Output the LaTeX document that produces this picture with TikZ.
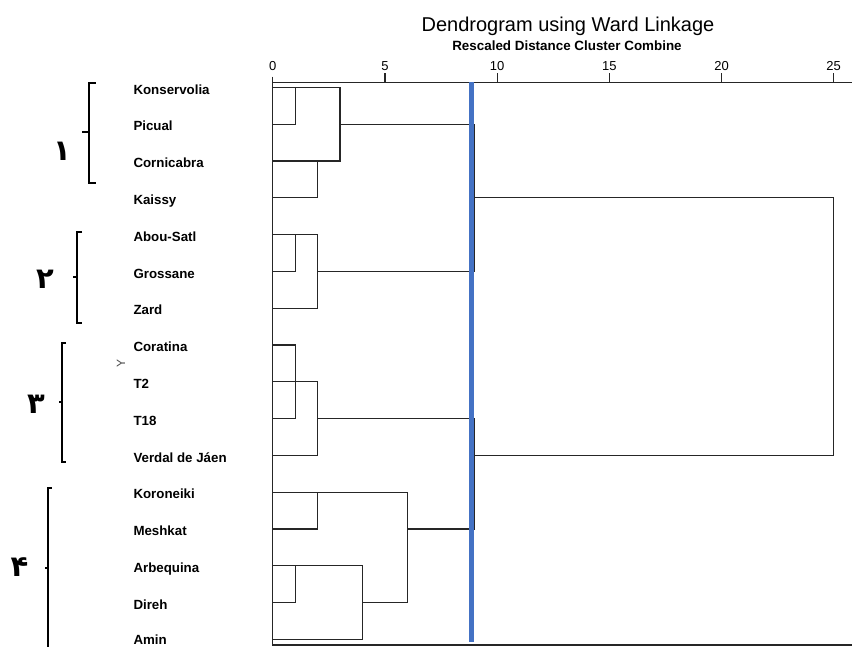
\documentclass[tikz,border=0pt]{standalone}
\usepackage{fontspec}
\setmainfont{Liberation Sans}
\newfontfamily\arabicfont[Script=Arabic]{DejaVu Sans}
\usetikzlibrary{positioning}
\definecolor{cutblue}{RGB}{68,114,196}
\tikzset{
  link/.style={draw=black!85, line width=1.2pt},
  cutline/.style={draw=cutblue, line width=5pt},
  brace/.style={draw=black, line width=2pt},
  leaflabel/.style={anchor=base west, inner sep=0pt, font=\fontsize{13.3}{15}\selectfont\bfseries},
  ticklabel/.style={anchor=base, inner sep=0pt, font=\fontsize{13}{15}\selectfont},
  groupnum/.style={inner sep=0pt, font=\arabicfont\fontsize{29}{31}\selectfont\bfseries},
}

\begin{document}
\begin{tikzpicture}[x=1pt,y=1pt,yscale=-1,xscale=1]
			\useasboundingbox (0,0) rectangle (852,646);
			
			% Text Node
			\node (title) [anchor=base, inner sep=0pt, font=\fontsize{20}{24}\selectfont] at (568,31) {Dendrogram using Ward Linkage};
			% Text Node
			\node (subtitle) [anchor=base, inner sep=0pt, font=\fontsize{13.4}{15}\selectfont\bfseries] at (567,50.7) {Rescaled Distance Cluster Combine};
			
			%Straight Lines: scale
			\draw [link] (272.7,76.7) -- (272.7,645) -- (852,645) ;
			\draw [link] (272.7,82.3) -- (852,82.3) ;
			\draw [link] (384.9,73.3) -- (384.9,82.3) ;
			\draw [link] (497.1,73.3) -- (497.1,82.3) ;
			\draw [link] (609.3,73.3) -- (609.3,82.3) ;
			\draw [link] (721.5,73.3) -- (721.5,82.3) ;
			\draw [link] (833.7,73.3) -- (833.7,82.3) ;
			% Text Node
			\node (t0) [ticklabel] at (272.7,70) {0};
			\node (t5) [ticklabel] at (384.9,70) {5};
			\node (t10) [ticklabel] at (497.1,70) {10};
			\node (t15) [ticklabel] at (609.3,70) {15};
			\node (t20) [ticklabel] at (721.5,70) {20};
			\node (t25) [ticklabel] at (833.7,70) {25};
			
			%Straight Lines: tree, in (distance, row)
			\begin{scope}[shift={(272.7,87.3)}, x=22.44pt, y=36.8pt]
			\draw [link] (0,0) -- (3,0) -- (3,2) -- (0,2) ;
			\draw [link] (0,1) -- (1,1) -- (1,0) ;
			\draw [link] (0,3) -- (2,3) -- (2,2) ;
			\draw [link] (3,1) -- (9,1) ;
			
			\draw [link] (0,4) -- (2,4) -- (2,6) -- (0,6) ;
			\draw [link] (0,5) -- (1,5) -- (1,4) ;
			\draw [link] (2,5) -- (9,5) ;
			
			\draw [link] (0,7) -- (1,7) -- (1,9) -- (0,9) ;
			\draw [link] (0,8) -- (2,8) -- (2,10) -- (0,10) ;
			\draw [link] (2,9) -- (9,9) ;
			
			\draw [link] (0,11) -- (6,11) -- (6,14) -- (4,14) ;
			\draw [link] (0,12) -- (2,12) -- (2,11) ;
			\draw [link] (6,12) -- (9,12) ;
			\draw [link] (0,13) -- (4,13) -- (4,15) -- (0,15) ;
			\draw [link] (0,14) -- (1,14) -- (1,13) ;
			
			\draw [link] (9,1) -- (9,5) ;
			\draw [link] (9,9) -- (9,12) ;
			\draw [link] (9,3) -- (25,3) -- (25,10) -- (9,10) ;
			\end{scope}
			
			%Straight Lines: cut
			\draw [cutline] (471.8,82.3) -- (471.8,641.7) ;
			
			% Text Node
			\node (leaf0) [leaflabel] at (133.3,94) {Konservolia};
			\node (leaf1) [leaflabel] at (133.3,130.8) {Picual};
			\node (leaf2) [leaflabel] at (133.3,167.6) {Cornicabra};
			\node (leaf3) [leaflabel] at (133.3,204.4) {Kaissy};
			\node (leaf4) [leaflabel] at (133.3,241.2) {Abou-Satl};
			\node (leaf5) [leaflabel] at (133.3,278) {Grossane};
			\node (leaf6) [leaflabel] at (133.3,314.8) {Zard};
			\node (leaf7) [leaflabel] at (133.3,351.6) {Coratina};
			\node (leaf8) [leaflabel] at (133.3,388.4) {T2};
			\node (leaf9) [leaflabel] at (133.3,425.2) {T18};
			\node (leaf10) [leaflabel] at (133.3,462) {Verdal de Jáen};
			\node (leaf11) [leaflabel] at (133.3,498.8) {Koroneiki};
			\node (leaf12) [leaflabel] at (133.3,535.6) {Meshkat};
			\node (leaf13) [leaflabel] at (133.3,572.4) {Arbequina};
			\node (leaf14) [leaflabel] at (133.3,609.2) {Direh};
			\node (leaf15) [leaflabel] at (133.3,644.5) {Amin};
			% Text Node
			\node (ymark) [rotate=90, inner sep=0pt, text=black!70, font=\fontsize{12}{13}\selectfont] at (121,363.5) {Y};
			
			%Shape: brackets
			\draw [brace] (95.7,82.7) -- (89.3,82.7) -- (89.3,182.7) -- (95.7,182.7) ;
			\draw [brace] (89.3,132) -- (81.7,132) ;
			\draw [brace] (82,231.7) -- (77.3,231.7) -- (77.3,323.3) -- (82,323.3) ;
			\draw [brace] (77.3,277.3) -- (72.7,277.3) ;
			\draw [brace] (66,343.3) -- (61.7,343.3) -- (61.7,461.7) -- (66,461.7) ;
			\draw [brace] (61.7,401.7) -- (59,401.7) ;
			\draw [brace] (51.5,487.7) -- (47.7,487.7) -- (47.7,650) ;
			\draw [brace] (47.7,568.3) -- (45,568.3) ;
			% Text Node
			\node (num1) [groupnum] at (62,151) {۱};
			\node (num2) [groupnum] at (45,279) {۲};
			\node (num3) [groupnum] at (36,404) {۳};
			\node (num4) [groupnum] at (19.5,567) {۴};
			
		\end{tikzpicture}
\end{document}
